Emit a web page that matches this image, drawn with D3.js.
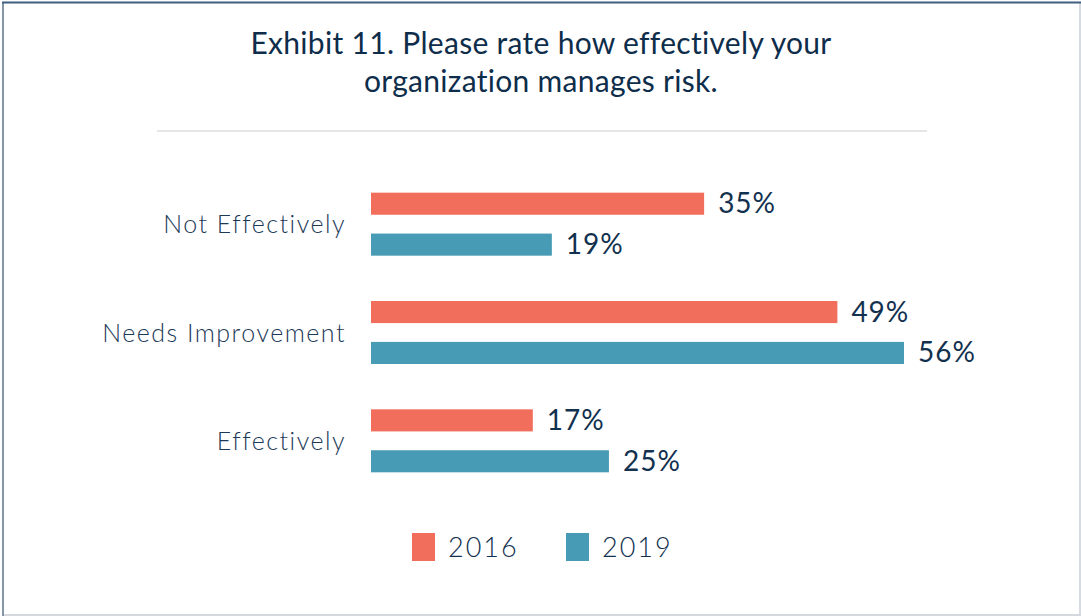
<!DOCTYPE html>
<html><head><meta charset="utf-8">
<script src="https://cdn.jsdelivr.net/npm/d3@7/dist/d3.min.js"></script>
<style>body{margin:0;background:#fff;}svg{display:block;}</style>
</head><body>
<script>
const categories = ["Not Effectively", "Needs Improvement", "Effectively"];
const seriesNames = ["2016", "2019"];
const values2016 = [35, 49, 17];
const values2019 = [19, 56, 25];
const titleLines = ["Exhibit 11. Please rate how effectively your", "organization manages risk."];
const colors = ["#f26e5c", "#489bb4"];

const W = 1081, H = 616;
const svg = d3.select("body").append("svg").attr("width", W).attr("height", H);

// frame
svg.append("rect").attr("x", 0).attr("y", 0).attr("width", W).attr("height", H).attr("fill", "#fff");
svg.append("line").attr("x1", 1080).attr("x2", 1080).attr("y1", 2).attr("y2", 616).attr("stroke", "#d5dbe1").attr("stroke-width", 2);
svg.append("line").attr("x1", 2).attr("x2", 1081).attr("y1", 615).attr("y2", 615).attr("stroke", "#d5d9dd").attr("stroke-width", 2);
svg.append("line").attr("x1", 3).attr("x2", 3).attr("y1", 2).attr("y2", 616).attr("stroke", "#8496a8").attr("stroke-width", 2);
svg.append("line").attr("x1", 2).attr("x2", 1081).attr("y1", 2.5).attr("y2", 2.5).attr("stroke", "#3f5f7f").attr("stroke-width", 2);

const font = "Lato, 'Open Sans', sans-serif";
const textColor = "#12314f";

svg.selectAll("text.title").data(titleLines).enter().append("text")
  .attr("class", "title")
  .attr("x", 541).attr("y", (d, i) => 54 + i * 38)
  .attr("text-anchor", "middle")
  .attr("font-family", font).attr("font-size", 30).attr("font-weight", 400)
  .attr("letter-spacing", 0.3)
  .attr("fill", "#0e2d4b")
  .text(d => d);

svg.append("line").attr("x1", 157).attr("x2", 927).attr("y1", 131).attr("y2", 131)
  .attr("stroke", "#e6e6e6").attr("stroke-width", 2);

const x = d3.scaleLinear().domain([0, 56]).range([371, 904]);
const y0 = d3.scaleBand().domain(categories).range([170, 495]).paddingInner(0).paddingOuter(0);
const y1 = d3.scaleBand().domain(seriesNames).range([0, 63]).paddingInner(0.46).paddingOuter(0);

const data = categories.map((c, i) => ({cat: c, vals: [values2016[i], values2019[i]]}));

const groups = svg.selectAll("g.grp").data(data).enter().append("g")
  .attr("transform", d => `translate(0,${y0(d.cat) + (y0.bandwidth() - 63) / 2})`);

groups.selectAll("rect").data(d => d.vals.map((v, j) => ({v, s: seriesNames[j], j})))
  .enter().append("rect")
  .attr("x", x(0)).attr("y", d => y1(d.s))
  .attr("width", d => x(d.v) - x(0)).attr("height", y1.bandwidth())
  .attr("fill", d => colors[d.j]);

groups.selectAll("text.val").data(d => d.vals.map((v, j) => ({v, s: seriesNames[j], j})))
  .enter().append("text").attr("class", "val")
  .attr("x", d => x(d.v) + 14).attr("y", d => y1(d.s) + y1.bandwidth() / 2)
  .attr("dy", "0.34em")
  .attr("font-family", font).attr("font-size", 28).attr("font-weight", 400)
  .attr("letter-spacing", 1)
  .attr("fill", textColor)
  .text(d => d.v + "%");

groups.append("text")
  .attr("x", 346).attr("y", 31.5).attr("dy", "0.36em")
  .attr("text-anchor", "end")
  .attr("font-family", font).attr("font-size", 25).attr("font-weight", 300)
  .attr("letter-spacing", 1.5)
  .attr("fill", "#1c3a58")
  .text(d => d.cat);

// legend
const legendX = [412, 566];
const lg = svg.selectAll("g.leg").data(seriesNames).enter().append("g")
  .attr("transform", (d, i) => `translate(${legendX[i]},533)`);
lg.append("rect").attr("width", 23).attr("height", 28).attr("fill", (d, i) => colors[i]);
lg.append("text").attr("x", 36).attr("y", 14).attr("dy", "0.36em")
  .attr("font-family", font).attr("font-size", 27).attr("font-weight", 300)
  .attr("letter-spacing", 2)
  .attr("fill", textColor).text(d => d);
</script>
</body></html>
